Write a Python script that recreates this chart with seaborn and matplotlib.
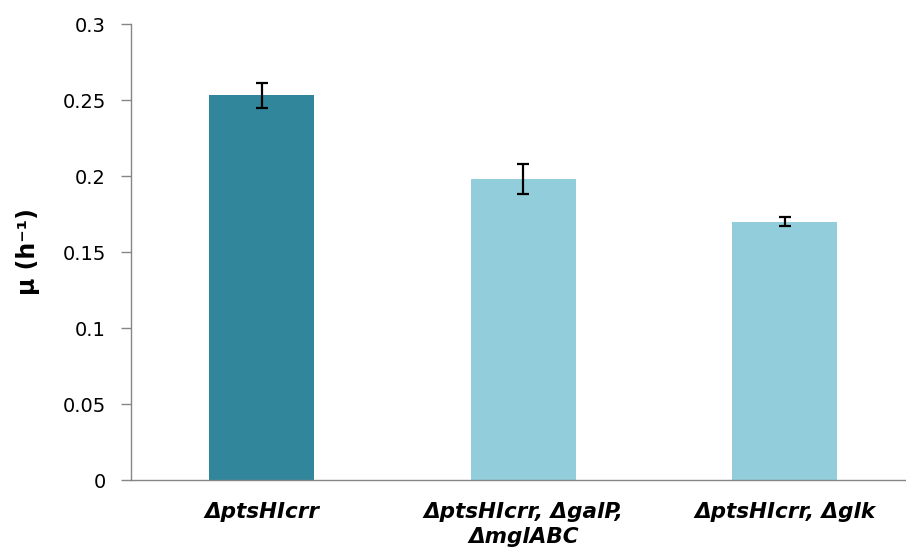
import matplotlib
matplotlib.use("Agg")
import matplotlib.pyplot as plt
import seaborn as sns
import pandas as pd

# values
strains = ["ΔptsHIcrr", "ΔptsHIcrr, ΔgalP,\nΔmglABC", "ΔptsHIcrr, Δglk"]
growth_rate = [0.253, 0.198, 0.170]
growth_err = [0.008, 0.010, 0.003]
bar_colors = ["#31869B", "#92CDDC", "#92CDDC"]
yticks = [0, 0.05, 0.1, 0.15, 0.2, 0.25, 0.3]
ytick_labels = ["0", "0.05", "0.1", "0.15", "0.2", "0.25", "0.3"]

df = pd.DataFrame({"strain": strains, "mu": growth_rate, "err": growth_err})

sns.set_style("white")
plt.rcParams["font.family"] = ["DejaVu Sans"]
plt.rcParams["text.color"] = "black"
plt.rcParams["axes.labelcolor"] = "black"
plt.rcParams["xtick.color"] = "black"
plt.rcParams["ytick.color"] = "black"

fig = plt.figure(figsize=(9.06, 5.5), dpi=100)
ax = fig.add_axes([131 / 906, 70 / 550, 784.5 / 906, 456 / 550])

sns.barplot(data=df, x="strain", y="mu", hue="strain", palette=bar_colors,
            width=0.4, legend=False, ax=ax, saturation=1, linewidth=0)
ax.errorbar(range(len(strains)), df["mu"], yerr=df["err"], fmt="none",
            ecolor="black", elinewidth=1.6, capsize=4.5, capthick=1.6)

ax.set_xlim(-0.5, len(strains) - 0.5)
ax.set_ylim(0, 0.3)
ax.set_yticks(yticks)
ax.set_yticklabels(ytick_labels, fontsize=14)
ax.set_xticks(range(len(strains)))
ax.set_xticklabels(strains, fontsize=15.5, fontweight="bold", fontstyle="italic",
                   linespacing=1.3)
ax.set_xticks([-0.5 + i for i in range(len(strains) + 1)], minor=True)
ax.tick_params(axis="x", which="major", length=0, pad=16)
ax.tick_params(axis="x", which="minor", length=6, color="#868686", width=1, direction="out")
ax.tick_params(axis="y", length=7, color="#868686", labelcolor="black", width=1,
               direction="out", pad=11, left=True)

ax.set_xlabel("")
ax.set_ylabel("μ (h⁻¹)", fontsize=17, fontweight="bold", labelpad=16)

for side in ["top", "right"]:
    ax.spines[side].set_visible(False)
for side in ["left", "bottom"]:
    ax.spines[side].set_color("#868686")
    ax.spines[side].set_linewidth(1)

fig.savefig("out.png", dpi=100)
